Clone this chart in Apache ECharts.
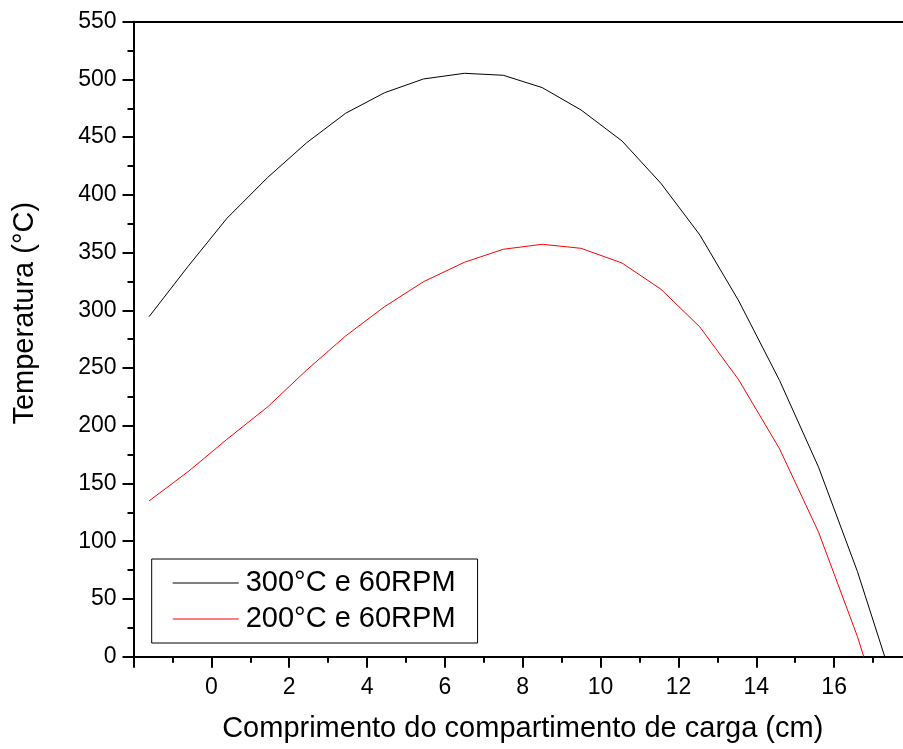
<!DOCTYPE html>
<html>
<head>
<meta charset="utf-8">
<script src="https://cdn.jsdelivr.net/npm/echarts@6/dist/echarts.min.js"></script>
<style>
html,body{margin:0;padding:0;background:#fff;}
#chart{width:903px;height:749px;}
</style>
</head>
<body>
<div id="chart"></div>
<script>
// Data
var seriesNames = ['300°C e 60RPM', '200°C e 60RPM'];
var xBlack = [-1.6, -0.6, 0.4, 1.45, 2.45, 3.45, 4.45, 5.45, 6.5, 7.5, 8.5, 9.5, 10.55, 11.55, 12.55, 13.55, 14.6, 15.6, 16.6, 17.3];
var yBlack = [294.5, 338, 379.7, 415.2, 445.2, 470.7, 488.5, 500.4, 505.3, 503.6, 492.9, 473.5, 446.7, 410.0, 365.3, 308.1, 239.1, 164.1, 73.6, 0];
var xRed = [-1.6, -0.6, 0.4, 1.45, 2.45, 3.45, 4.45, 5.45, 6.5, 7.5, 8.5, 9.5, 10.55, 11.55, 12.55, 13.55, 14.6, 15.6, 16.6, 16.76];
var yRed = [134.9, 160.2, 188.3, 216.5, 248.3, 277.8, 303.2, 324.8, 341.6, 352.9, 357.2, 353.7, 341.0, 318.3, 285.6, 239.7, 179.9, 107.8, 17.3, 0];
var hiddenXLabels = [-2, 18];
var xTitle = 'Comprimento do compartimento de carga (cm)';
var yTitle = 'Temperatura (°C)';

function pairs(xs, ys) { return xs.map(function (x, i) { return [x, ys[i]]; }); }

var FONT = '"Liberation Sans", Arial, sans-serif';
var chart = echarts.init(document.getElementById('chart'), null, {renderer: 'canvas'});
chart.setOption({
  animation: false,
  backgroundColor: '#fff',
  grid: {left: 133.5, top: 21.7, right: -9, bottom: 92.3, containLabel: false, outerBoundsMode: 'none'},
  legend: {
    orient: 'vertical',
    left: 151.7, top: 559,
    padding: [9, 22, 9, 21],
    borderColor: '#000', borderWidth: 1,
    icon: 'rect',
    itemWidth: 66, itemHeight: 1, itemGap: 6,
    textStyle: {fontFamily: FONT, fontSize: 29, color: '#000', lineHeight: 30, padding: [0, 0, 0, 2]},
    data: seriesNames
  },
  xAxis: [{
    type: 'value', min: -2, max: 18, interval: 2, position: 'bottom',
    name: xTitle, nameLocation: 'middle', nameGap: 58,
    nameTextStyle: {fontFamily: FONT, fontSize: 29, color: '#000'},
    axisLine: {show: true, onZero: false, lineStyle: {color: '#000', width: 2}},
    axisTick: {show: true, inside: false, length: 11, lineStyle: {color: '#000', width: 2}},
    minorTick: {show: true, splitNumber: 2, length: 6, lineStyle: {color: '#000', width: 2}},
    axisLabel: {fontFamily: FONT, fontSize: 23, color: '#000', margin: 19,
      formatter: function (v) { return hiddenXLabels.indexOf(v) >= 0 ? '' : String(v); }},
    splitLine: {show: false}
  }, {
    type: 'value', min: -2, max: 18, position: 'top',
    axisLine: {show: true, onZero: false, lineStyle: {color: '#000', width: 2}},
    axisTick: {show: false}, axisLabel: {show: false}, splitLine: {show: false}
  }],
  yAxis: [{
    type: 'value', min: 0, max: 550, interval: 50, position: 'left',
    name: yTitle, nameLocation: 'middle', nameGap: 94,
    nameTextStyle: {fontFamily: FONT, fontSize: 29, color: '#000', padding: [0, 0, 0, 52]},
    axisLine: {show: true, onZero: false, lineStyle: {color: '#000', width: 2}},
    axisTick: {show: true, inside: false, length: 11, lineStyle: {color: '#000', width: 2}},
    minorTick: {show: true, splitNumber: 2, length: 6, lineStyle: {color: '#000', width: 2}},
    axisLabel: {fontFamily: FONT, fontSize: 23, color: '#000', margin: 17},
    splitLine: {show: false}
  }, {
    type: 'value', min: 0, max: 550, position: 'right',
    axisLine: {show: true, onZero: false, lineStyle: {color: '#000', width: 2}},
    axisTick: {show: false}, axisLabel: {show: false}, splitLine: {show: false}
  }],
  series: [{
    name: seriesNames[0], type: 'line', data: pairs(xBlack, yBlack),
    symbol: 'none', smooth: false,
    lineStyle: {color: '#000', width: 1}, itemStyle: {color: '#000'}
  }, {
    name: seriesNames[1], type: 'line', data: pairs(xRed, yRed),
    symbol: 'none', smooth: false,
    lineStyle: {color: '#ff0000', width: 1}, itemStyle: {color: '#ff0000'}
  }]
});
</script>
</body>
</html>
